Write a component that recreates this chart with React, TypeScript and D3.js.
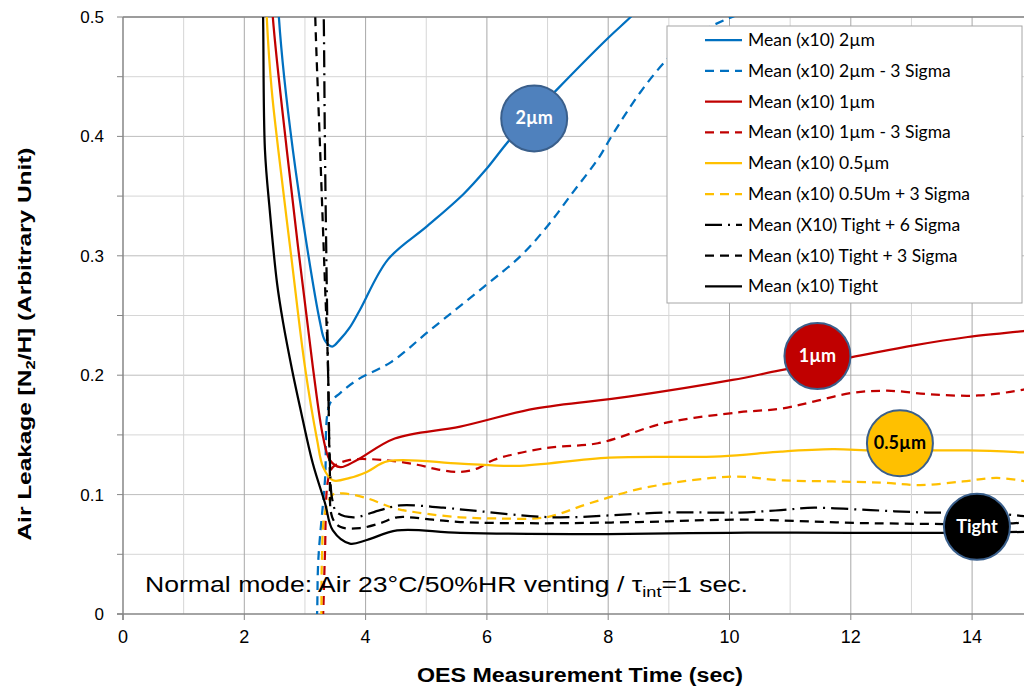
import React from 'react';
import * as d3 from 'd3';

// time (sec), leakage
const mean2um: [number, number][] = [
  [2.54, 0.55], [2.57, 0.5], [2.8, 0.389], [3.25, 0.244], [3.33, 0.229], [3.45, 0.224],
  [3.58, 0.23], [3.74, 0.24], [3.91, 0.255], [4.37, 0.297], [5.02, 0.325], [5.62, 0.352],
  [5.98, 0.372], [6.39, 0.398], [7.17, 0.44], [7.99, 0.482], [8.37, 0.5], [8.6, 0.512]
];
const mean2umMinus3: [number, number][] = [
  [3.17, -0.03], [3.2, 0], [3.22, 0.045], [3.33, 0.112], [3.41, 0.176], [3.58, 0.185],
  [3.86, 0.196], [4.42, 0.211], [5.07, 0.238], [5.95, 0.274], [6.56, 0.3], [7.0, 0.325],
  [7.43, 0.354], [7.83, 0.381], [8.09, 0.403], [8.53, 0.437], [8.98, 0.465], [9.4, 0.484],
  [9.9, 0.497], [10.3, 0.505]
];
const mean1um: [number, number][] = [
  [2.42, 0.55], [2.47, 0.5], [2.7, 0.389], [3.13, 0.207], [3.3, 0.148], [3.41, 0.129],
  [3.58, 0.123], [3.86, 0.129], [4.48, 0.147], [5.56, 0.157], [6.79, 0.172], [8.33, 0.182],
  [10.05, 0.196], [10.83, 0.204], [12.0, 0.215], [13.04, 0.225], [13.93, 0.232],
  [14.85, 0.237], [15, 0.238]
];
const mean1umMinus3: [number, number][] = [
  [3.27, -0.03], [3.3, 0], [3.33, 0.051], [3.38, 0.112], [3.46, 0.123], [3.74, 0.129],
  [4.29, 0.129], [4.85, 0.125], [5.2, 0.121], [5.56, 0.119], [5.85, 0.122], [6.11, 0.129],
  [6.97, 0.139], [7.83, 0.143], [8.94, 0.16], [10.17, 0.169], [10.85, 0.172], [11.4, 0.178],
  [12.0, 0.185], [12.6, 0.187], [13.32, 0.184], [14.1, 0.183], [14.85, 0.188], [15, 0.19]
];
const mean05um: [number, number][] = [
  [2.34, 0.55], [2.37, 0.5], [2.45, 0.44], [2.56, 0.389], [2.78, 0.297], [3.0, 0.207],
  [3.2, 0.146], [3.3, 0.123], [3.46, 0.112], [3.74, 0.114], [4.02, 0.119], [4.37, 0.128],
  [5.56, 0.126], [6.48, 0.124], [8.02, 0.131], [9.86, 0.132], [10.85, 0.136], [11.7, 0.138],
  [12.4, 0.137], [13.93, 0.137], [15, 0.135]
];
const mean05umPlus3: [number, number][] = [
  [3.25, -0.03], [3.27, 0], [3.28, 0.045], [3.33, 0.085], [3.46, 0.1], [3.63, 0.101],
  [4.02, 0.097], [4.45, 0.089], [4.85, 0.085], [5.56, 0.081], [6.17, 0.08], [6.97, 0.081],
  [7.71, 0.093], [8.63, 0.106], [10.05, 0.115], [10.85, 0.112], [11.7, 0.111], [12.5, 0.11],
  [13.14, 0.108], [13.85, 0.111], [14.41, 0.114], [15, 0.11]
];
const tightPlus6: [number, number][] = [
  [3.29, 0.55], [3.31, 0.5], [3.33, 0.389], [3.38, 0.207], [3.41, 0.13], [3.45, 0.096],
  [3.53, 0.085], [3.8, 0.081], [4.24, 0.087], [4.57, 0.091], [5.28, 0.089], [5.89, 0.086],
  [7.1, 0.081], [8.94, 0.085], [10.17, 0.085], [10.85, 0.087], [11.4, 0.089], [12.33, 0.087],
  [13.25, 0.085], [14.2, 0.085], [15, 0.081]
];
const tightPlus3: [number, number][] = [
  [3.15, 0.55], [3.17, 0.5], [3.25, 0.389], [3.33, 0.277], [3.38, 0.207], [3.41, 0.12],
  [3.45, 0.081], [3.58, 0.073], [3.91, 0.072], [4.24, 0.076], [4.52, 0.081], [5.11, 0.079],
  [5.56, 0.077], [6.88, 0.076], [8.5, 0.077], [10.17, 0.079], [12.37, 0.076], [14.67, 0.076],
  [15, 0.078]
];
const tight: [number, number][] = [
  [2.29, 0.55], [2.31, 0.5], [2.34, 0.389], [2.42, 0.338], [2.54, 0.277], [2.64, 0.244],
  [2.79, 0.204], [2.92, 0.173], [3.13, 0.126], [3.33, 0.093], [3.46, 0.07], [3.74, 0.059],
  [4.02, 0.062], [4.52, 0.07], [5.56, 0.068], [8, 0.067], [10, 0.068], [12, 0.068],
  [14, 0.068], [15, 0.069]
];

const seriesLabels = [
  'Mean (x10) 2µm', 'Mean (x10) 2µm - 3 Sigma', 'Mean (x10) 1µm', 'Mean (x10) 1µm - 3 Sigma',
  'Mean (x10) 0.5µm', 'Mean (x10) 0.5Um + 3 Sigma', 'Mean (X10) Tight + 6 Sigma',
  'Mean (x10) Tight + 3 Sigma', 'Mean (x10) Tight'
];
const xTicks = [0, 2, 4, 6, 8, 10, 12, 14];
const yTicks = [0, 0.1, 0.2, 0.3, 0.4, 0.5];

// circle badges: label, time, leakage
const badgeLabels = ['2µm', '1µm', '0.5µm', 'Tight'];
const badgeX = [6.78, 11.45, 12.81, 14.08];
const badgeY = [0.415, 0.216, 0.143, 0.073];

const BLUE = '#0070c0', RED = '#c00000', GOLD = '#ffc000', BLACK = '#000000';
const DASH = '9,6';
const DASHDOT = '17,6,2,6';

const series = [
  { data: mean2um, color: BLUE, dash: null },
  { data: mean2umMinus3, color: BLUE, dash: DASH },
  { data: mean1um, color: RED, dash: null },
  { data: mean1umMinus3, color: RED, dash: DASH },
  { data: mean05um, color: GOLD, dash: null },
  { data: mean05umPlus3, color: GOLD, dash: DASH },
  { data: tightPlus6, color: BLACK, dash: DASHDOT },
  { data: tightPlus3, color: BLACK, dash: DASH },
  { data: tight, color: BLACK, dash: null }
];
const badgeFill = ['#4f81bd', '#c00000', '#ffc000', '#000000'];
const badgeText = ['#fff', '#fff', '#000', '#fff'];

const W = 1024, H = 686;
const left = 123, top = 17, bottom = 614;

export default function App() {
  const x = d3.scaleLinear().domain([0, 15]).range([left, left + 15 * 60.65]);
  const y = d3.scaleLinear().domain([0, 0.5]).range([bottom, top]);
  const line = d3.line<[number, number]>()
    .x((d) => x(d[0]))
    .y((d) => y(d[1]))
    .curve(d3.curveCatmullRom.alpha(0.5));

  const vGrid = d3.range(1, 16);
  const hGrid = d3.range(1, 11).map((i) => i * 0.05);
  const yTickMarks = d3.range(0, 11).map((i) => i * 0.05);

  const lx = 667, ly = 26, lw = 355, lh = 277;

  return (
    <svg width={W} height={H} style={{ position: 'absolute', left: 0, top: 0, background: '#fff' }}>
      <defs>
        <clipPath id="plot">
          <rect x={left} y={top} width={W - left} height={bottom - top} />
        </clipPath>
      </defs>

      {/* gridlines */}
      {hGrid.map((v, i) => (
        <line key={'h' + i} x1={left} x2={W} y1={y(v)} y2={y(v)}
          stroke={i % 2 === 1 ? '#bdbdbd' : '#d6d6d6'} strokeWidth={1} />
      ))}
      {vGrid.map((v) => (
        <line key={'v' + v} x1={x(v)} x2={x(v)} y1={top} y2={bottom}
          stroke={v % 2 === 0 ? '#a8a8a8' : '#d6d6d6'} strokeWidth={1} />
      ))}

      {/* axes */}
      <line x1={left} x2={W} y1={top} y2={top} stroke="#868686" strokeWidth={1.5} />
      <line x1={left} x2={left} y1={top} y2={bottom + 6} stroke="#868686" strokeWidth={1.5} />
      <line x1={left - 6} x2={W} y1={bottom} y2={bottom} stroke="#868686" strokeWidth={1.5} />
      {yTickMarks.map((v, i) => (
        <line key={'yt' + i} x1={left - 6} x2={left} y1={y(v)} y2={y(v)} stroke="#868686" strokeWidth={1} />
      ))}
      {xTicks.map((v) => (
        <line key={'xt' + v} x1={x(v)} x2={x(v)} y1={bottom} y2={bottom + 6} stroke="#868686" strokeWidth={1} />
      ))}

      <g fontFamily="'Liberation Sans', Arial, sans-serif" fontSize={17} fill="#000">
        {yTicks.map((v) => (
          <text key={'yl' + v} x={104} y={y(v) + 6} textAnchor="end">{v === 0 ? '0' : d3.format('.1f')(v)}</text>
        ))}
      </g>
      <g fontFamily="'Liberation Sans Narrow', 'Liberation Sans', Arial, sans-serif" fontSize={18} fill="#000">
        {xTicks.map((v) => (
          <text key={'xl' + v} x={x(v)} y={643} textAnchor="middle">{v}</text>
        ))}
      </g>

      {/* series */}
      <g clipPath="url(#plot)">
        {series.map((s, i) => (
          <path key={'s' + i} d={line(s.data) || ''} fill="none" stroke={s.color}
            strokeWidth={2.25} strokeDasharray={s.dash || undefined} />
        ))}
      </g>

      {/* badges */}
      {badgeLabels.map((b, i) => (
        <g key={'b' + i} transform={`translate(${x(badgeX[i])},${y(badgeY[i])})`}>
          <circle r={33} fill={badgeFill[i]} stroke="#3a5f8b" strokeWidth={2} />
          <text y={6} textAnchor="middle" fontFamily="Lato, 'Open Sans', sans-serif" fontWeight={700}
            fontSize={18} fill={badgeText[i]}>{b}</text>
        </g>
      ))}

      {/* legend */}
      <rect x={lx} y={ly} width={lw} height={lh} fill="#fff" stroke="#a6a6a6" strokeWidth={1} />
      {seriesLabels.map((lab, i) => {
        const yy = 40 + i * 30.8;
        const s = series[i];
        return (
          <g key={'l' + i}>
            <line x1={705} x2={742} y1={yy} y2={yy} stroke={s.color} strokeWidth={2.25}
              strokeDasharray={s.dash || undefined} />
            <text x={748} y={yy + 6} fontFamily="Lato, 'Open Sans', sans-serif" fontSize={17.5} fill="#000">{lab}</text>
          </g>
        );
      })}

      {/* annotation */}
      <text x={145} y={592} fontFamily="'Liberation Sans Narrow', 'Liberation Sans', Arial, sans-serif"
        fontSize={22} fill="#000" textLength={603} lengthAdjust="spacingAndGlyphs">
        Normal mode: Air 23°C/50%HR venting / τ<tspan fontSize={15} dy={5}>int</tspan><tspan dy={-5}>=1 sec.</tspan>
      </text>

      {/* axis titles */}
      <text x={580} y={682} textAnchor="middle" fontFamily="'Liberation Sans', Arial, sans-serif"
        fontWeight={700} fontSize={20} fill="#000" textLength={326} lengthAdjust="spacingAndGlyphs">
        OES Measurement Time (sec)
      </text>
      <text transform="translate(31,344) rotate(-90)" textAnchor="middle"
        fontFamily="'Liberation Sans', Arial, sans-serif" fontWeight={700} fontSize={19} fill="#000"
        textLength={393} lengthAdjust="spacingAndGlyphs">
        Air Leakage [N<tspan fontSize={13} dy={4}>2</tspan><tspan dy={-4}>/H] (Arbitrary Unit)</tspan>
      </text>
    </svg>
  );
}
